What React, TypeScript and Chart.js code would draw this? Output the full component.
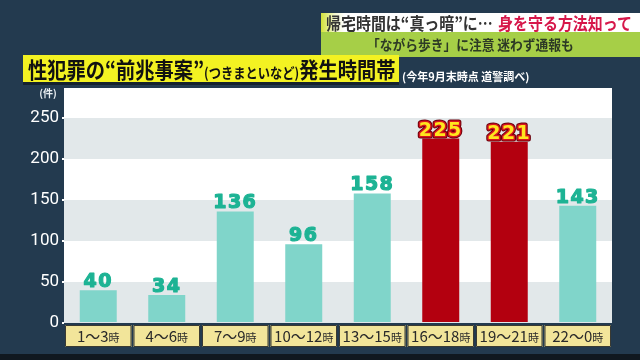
import React, { useEffect, useRef } from "react";
import { Chart, registerables } from "chart.js";

Chart.register(...registerables);

const categories = ["1～3", "4～6", "7～9", "10～12", "13～15", "16～18", "19～21", "22～0"];
const hourSuffix = "時";
const counts = [40, 34, 136, 96, 158, 225, 221, 143];
const highlighted = [false, false, false, false, false, true, true, false];
const yTicks = [0, 50, 100, 150, 200, 250];
const yUnit = "(件)";
const headline1 = "帰宅時間は“真っ暗”に…";
const headline2 = "身を守る方法知って";
const subHeadline = "「ながら歩き」に注意 迷わず通報も";
const titleA = "性犯罪の“前兆事案”";
const titleB = "(つきまといなど)";
const titleC = "発生時間帯";
const sourceNote = "(今年9月末時点 道警調べ)";

const NAVY = "#233a4f";
const TEAL = "#80d5ca";
const RED = "#b3000f";
const TEAL_TEXT = "#1db394";
const BAND = "#e2e8ea";
const JP = '"Noto Sans CJK JP", "Noto Sans", sans-serif';

const decorPlugin = {
  id: "decor",
  beforeDatasetsDraw(chart: any) {
    const { ctx, chartArea } = chart;
    const y = chart.scales.y;
    ctx.save();
    ctx.fillStyle = "#ffffff";
    ctx.fillRect(chartArea.left, chartArea.top, chartArea.right - chartArea.left, chartArea.bottom - chartArea.top);
    ctx.fillStyle = BAND;
    for (let i = 0; i + 1 < yTicks.length; i += 2) {
      const top = y.getPixelForValue(yTicks[i + 1]);
      const bot = y.getPixelForValue(yTicks[i]);
      ctx.fillRect(chartArea.left, top, chartArea.right - chartArea.left, bot - top);
    }
    ctx.restore();
  },
  afterDatasetsDraw(chart: any) {
    const { ctx, chartArea } = chart;
    const x = chart.scales.x;
    const meta = chart.getDatasetMeta(0);
    ctx.save();
    meta.data.forEach((bar: any, i: number) => {
      const txt = String(counts[i]);
      ctx.textAlign = "center";
      ctx.textBaseline = "alphabetic";
      ctx.font = 'bold 19px "DejaVu Sans"';
      (ctx as any).letterSpacing = "1.5px";
      ctx.lineJoin = "round";
      if (highlighted[i]) {
        ctx.strokeStyle = "#6a000c";
        ctx.lineWidth = 5;
        ctx.strokeText(txt, bar.x, bar.y - 3);
        ctx.strokeStyle = "#d8141e";
        ctx.lineWidth = 3;
        ctx.strokeText(txt, bar.x, bar.y - 3);
        ctx.fillStyle = "#ffe61e";
        ctx.fillText(txt, bar.x, bar.y - 3);
      } else {
        ctx.strokeStyle = TEAL_TEXT;
        ctx.lineWidth = 1.2;
        ctx.strokeText(txt, bar.x, bar.y - 3);
        ctx.fillStyle = TEAL_TEXT;
        ctx.fillText(txt, bar.x, bar.y - 3);
      }
    });
    (ctx as any).letterSpacing = "0px";
    const step = (chartArea.right - chartArea.left) / categories.length;
    const boxTop = chartArea.bottom + 2;
    const boxH = 22;
    categories.forEach((c, i) => {
      const cx = x.getPixelForValue(i);
      const w = step - 2;
      ctx.fillStyle = "#f2e59a";
      ctx.fillRect(cx - w / 2, boxTop, w, boxH);
      ctx.strokeStyle = "#3a3a32";
      ctx.lineWidth = 1;
      ctx.strokeRect(cx - w / 2 + 0.5, boxTop + 0.5, w - 1, boxH - 1);
      ctx.font = `15px ${JP}`;
      const w1 = ctx.measureText(c).width;
      ctx.font = `11px ${JP}`;
      const w2 = ctx.measureText(hourSuffix).width;
      const sx = cx - (w1 + w2) / 2;
      ctx.fillStyle = "#2a2a2a";
      ctx.textAlign = "left";
      ctx.textBaseline = "alphabetic";
      ctx.font = `15px ${JP}`;
      ctx.fillText(c, sx, boxTop + 17);
      ctx.font = `11px ${JP}`;
      ctx.fillText(hourSuffix, sx + w1, boxTop + 17);
    });
    ctx.fillStyle = "#e8eef2";
    ctx.font = `bold 10px ${JP}`;
    ctx.textAlign = "center";
    ctx.fillText(yUnit, 48, chartArea.top + 9);
    ctx.restore();
  },
};

const squeeze = (k: number): React.CSSProperties => ({
  display: "inline-block",
  transform: `scaleX(${k})`,
  transformOrigin: "left center",
});

export default function App() {
  const ref = useRef<HTMLCanvasElement | null>(null);
  useEffect(() => {
    document.body.style.margin = "0";
    const chart = new Chart(ref.current!, {
      type: "bar",
      data: {
        labels: categories.map((c) => c + hourSuffix),
        datasets: [
          {
            data: counts,
            backgroundColor: highlighted.map((h) => (h ? RED : TEAL)),
            borderWidth: 0,
            barPercentage: 0.54,
            categoryPercentage: 1,
          },
        ],
      },
      options: {
        animation: false,
        responsive: false,
        maintainAspectRatio: false,
        layout: { padding: { top: 88, right: 28, bottom: 37, left: 0 } },
        plugins: { legend: { display: false }, tooltip: { enabled: false } },
        scales: {
          x: { display: false },
          y: {
            min: 0,
            max: 286.6,
            afterBuildTicks: (scale: any) => {
              scale.ticks = yTicks.map((v) => ({ value: v }));
            },
            afterFit: (scale: any) => {
              scale.width = 64;
            },
            border: { display: false },
            grid: { drawOnChartArea: false, drawTicks: true, tickLength: 2, color: "#ffffff", lineWidth: 2 },
            ticks: { color: "#ffffff", font: { family: "Roboto", size: 17 }, padding: 3 },
          },
        },
      },
      plugins: [decorPlugin],
    });
    return () => chart.destroy();
  }, []);

  return (
    <div style={{ position: "fixed", left: 0, top: 0, width: 640, height: 360, background: NAVY, overflow: "hidden", fontFamily: JP }}>
      <canvas ref={ref} width={640} height={360} style={{ position: "absolute", left: 0, top: 0 }} />
      <div style={{ position: "absolute", left: 0, top: 354, width: 640, height: 6, background: "#101820" }} />
      <div
        style={{
          position: "absolute", left: 321, top: 13, width: 319, height: 19,
          background: "linear-gradient(90deg, #d3e23a 0px, #f4f8d0 14px, #ffffff 24px)",
          whiteSpace: "nowrap", fontWeight: 700, fontSize: 17, lineHeight: "19px", paddingLeft: 5, boxSizing: "border-box",
        }}
      >
        <span style={squeeze(0.88)}>
          <span style={{ color: "#333333" }}>{headline1}</span>
          <span style={{ color: "#d6174a", marginLeft: 6 }}>{headline2}</span>
        </span>
      </div>
      <div
        style={{
          position: "absolute", left: 321, top: 32, width: 319, height: 25, background: "#a6cf47",
          whiteSpace: "nowrap", fontWeight: 700, fontSize: 14, lineHeight: "25px", paddingLeft: 46, boxSizing: "border-box", color: "#2d3a25",
        }}
      >
        <span style={squeeze(0.91)}>{subHeadline}</span>
      </div>
      <div
        style={{
          position: "absolute", left: 23, top: 55, width: 376, height: 27, background: "#f3f222",
          boxShadow: "0 3px 0 #15222e", whiteSpace: "nowrap", fontWeight: 700, color: "#111111",
          lineHeight: "27px", paddingLeft: 5, boxSizing: "border-box",
        }}
      >
        <span style={squeeze(0.875)}>
          <span style={{ fontSize: 22 }}>{titleA}</span>
          <span style={{ fontSize: 14 }}>{titleB}</span>
          <span style={{ fontSize: 22 }}>{titleC}</span>
        </span>
      </div>
      <div style={{ position: "absolute", left: 402, top: 68, whiteSpace: "nowrap", fontSize: 11, fontWeight: 700, color: "#ffffff", lineHeight: "16px" }}>
        {sourceNote}
      </div>
    </div>
  );
}
